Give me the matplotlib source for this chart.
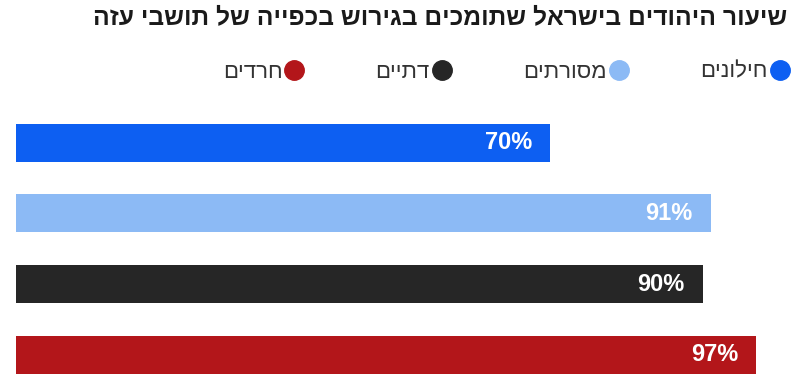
import matplotlib.pyplot as plt
from matplotlib.lines import Line2D

# data
groups = ["חילונים", "מסורתים", "דתיים", "חרדים"]
values = [70, 91, 90, 97]
colors = ["#0d5ff2", "#8cbaf5", "#262626", "#b3161a"]
title = "שיעור היהודים בישראל שתומכים בגירוש בכפייה של תושבי עזה"

plt.rcParams['font.family'] = ['Liberation Sans Narrow', 'Liberation Sans', 'DejaVu Sans']


def rtl(s):
    # matplotlib has no bidi support, so reverse the visual order
    return s[::-1]


fig = plt.figure(figsize=(8, 3.83), dpi=100)
ax = fig.add_axes([0.02, 0.0, 0.954, 0.72])

y = list(range(len(values)))
ax.barh(y, values, height=0.54, color=colors)
for yi, v in zip(y, values):
    ax.annotate(f"{v}%", xy=(v, yi), xytext=(-13, 0), textcoords="offset points",
                ha="right", va="center", color="white", fontsize=17, fontweight="bold")

ax.set_xlim(0, 100)
ax.set_ylim(3.4, -0.5)
ax.axis("off")

fig.text(0.984, 0.955, rtl(title), ha="right", va="center", fontsize=17.7, fontweight="bold",
         color="#1a1a1a")

handles = [Line2D([], [], marker="o", linestyle="", markersize=14, color=c) for c in colors]
labels = [rtl(g) for g in groups]
fig.legend(handles[::-1], labels[::-1], loc="center right", bbox_to_anchor=(1.012, 0.812),
           ncol=4, frameon=False, markerfirst=False, fontsize=16, handlelength=0.9,
           handletextpad=0.1, columnspacing=3.2, labelcolor="#333333")

fig.savefig("out.png", dpi=100)
